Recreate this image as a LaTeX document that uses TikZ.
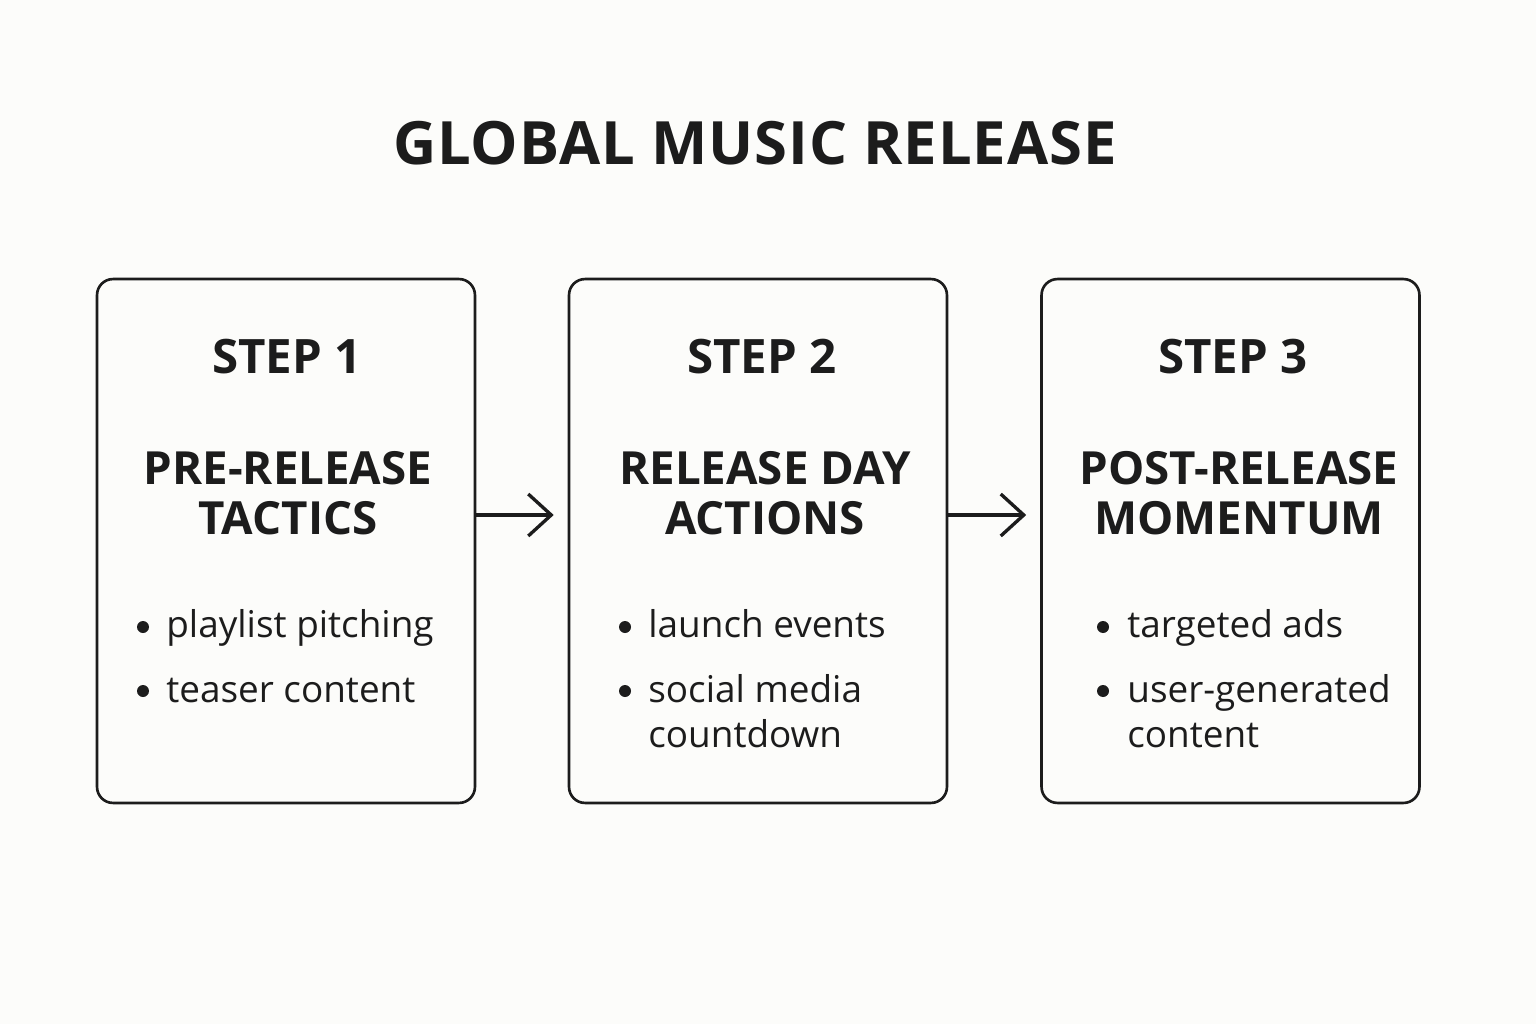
\documentclass[tikz,border=0pt]{standalone}
\usepackage{fontspec}
\setmainfont{Open Sans}
\usetikzlibrary{arrows.meta}
\definecolor{ink}{HTML}{1C1C1C}
\definecolor{paper}{HTML}{FCFCFA}
\tikzset{
  box/.style={draw=ink, line width=1.5pt, rounded corners=0.32cm,
    minimum width=7.56cm, minimum height=10.48cm, inner sep=0},
  steplbl/.style={anchor=base, inner sep=0, text=ink,
    font=\bfseries\fontsize{27pt}{32pt}\selectfont},
  headlbl/.style={anchor=base, inner sep=0, text=ink,
    font=\bfseries\fontsize{26pt}{31pt}\selectfont},
  itemlbl/.style={anchor=base west, inner sep=0, text=ink,
    font=\fontsize{21pt}{25pt}\selectfont},
  flow/.style={draw=ink, line width=1.9pt, shorten >=0.28cm,
    -{Straight Barb[length=0.46cm, width=0.84cm]}}
}
\begin{document}
\begin{tikzpicture}[x=0.02cm, y=-0.02cm]
\fill[paper] (0,0) rectangle (1536,1024);
\useasboundingbox (0,0) rectangle (1536,1024);
% title
\node[anchor=base, inner sep=0, text=ink,
  font=\bfseries\fontsize{34pt}{40pt}\selectfont\addfontfeature{LetterSpace=1.5}]
  (title) at (755,165) {GLOBAL MUSIC RELEASE};
% boxes
\node[box] (box1) at (286,541) {};
\node[box] (box2) at (758,541) {};
\node[box] (box3) at (1230.5,541) {};
\draw[flow] ([yshift=0.52cm]box1.east) -- ([yshift=0.52cm]box2.west);
\draw[flow] ([yshift=0.52cm]box2.east) -- ([yshift=0.52cm]box3.west);
% step 1
\node[steplbl] (s1) at (287,373) {STEP 1};
\node[headlbl] (h1a) at (288,484) {PRE-RELEASE};
\node[headlbl] (h1b) at (288,534) {TACTICS};
\fill[ink] (143,627) circle (6);
\node[itemlbl] (i1a) at (166,637) {playlist pitching};
\fill[ink] (143,691) circle (6);
\node[itemlbl] (i1b) at (166,702) {teaser content};
% step 2
\node[steplbl] (s2) at (762,373) {STEP 2};
\node[headlbl] (h2a) at (765,484) {RELEASE DAY};
\node[headlbl] (h2b) at (765,534) {ACTIONS};
\fill[ink] (625,627) circle (6);
\node[itemlbl] (i2a) at (648,637) {launch events};
\fill[ink] (625,691) circle (6);
\node[itemlbl] (i2b) at (648,702) {social media};
\node[itemlbl] (i2c) at (648,747) {countdown};
% step 3
\node[steplbl] (s3) at (1233,373) {STEP 3};
\node[headlbl] (h3a) at (1239,484) {POST-RELEASE};
\node[headlbl] (h3b) at (1239,534) {MOMENTUM};
\fill[ink] (1103,627) circle (6);
\node[itemlbl] (i3a) at (1127,637) {targeted ads};
\fill[ink] (1103,691) circle (6);
\node[itemlbl] (i3b) at (1127,702) {user-generated};
\node[itemlbl] (i3c) at (1127,747) {content};
\end{tikzpicture}
\end{document}
